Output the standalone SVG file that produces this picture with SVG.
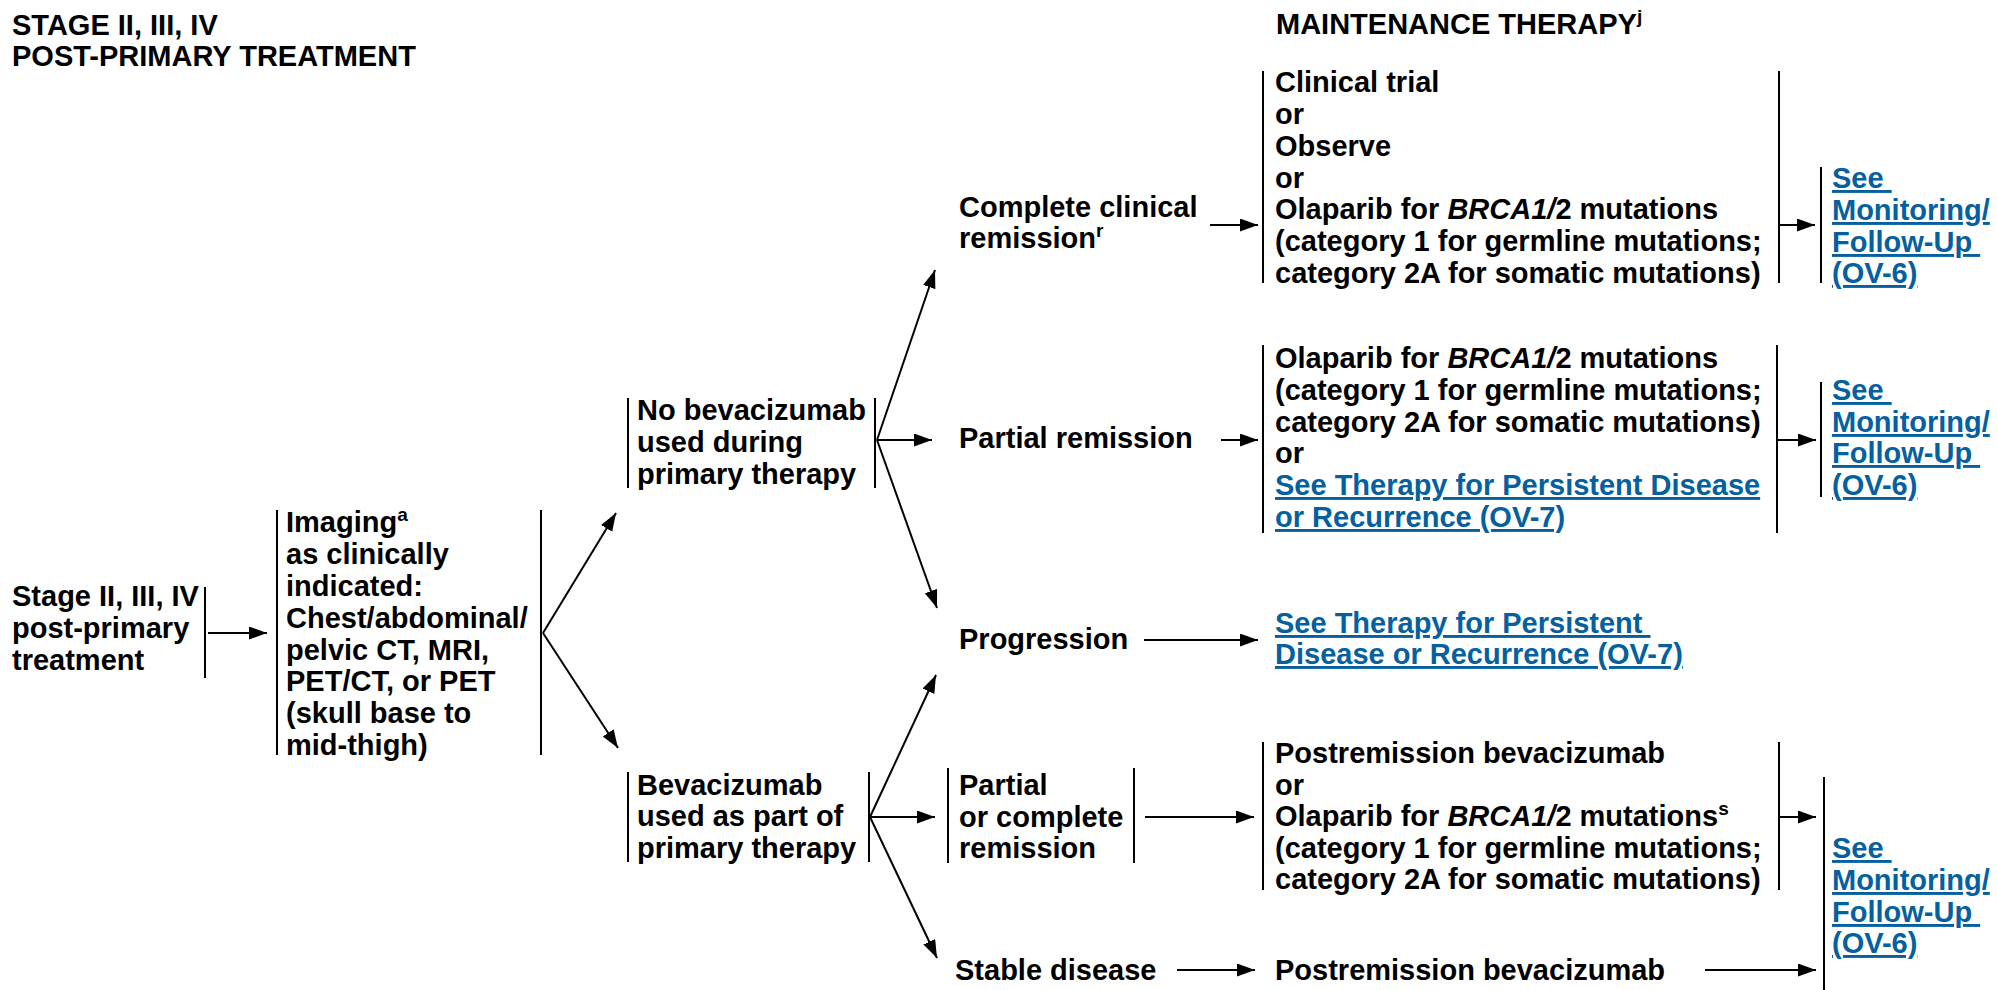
<svg xmlns="http://www.w3.org/2000/svg" width="1997" height="990" viewBox="0 0 1997 990">
<style>
.t{font-family:"Liberation Sans",Arial,sans-serif;font-weight:bold;font-size:29px;fill:#000}
.l{fill:#0560a0;text-decoration:underline}
.i{font-style:italic}
.sup{font-size:19px}
.bar{stroke:#000;stroke-width:2;fill:none}
.c{stroke:#000;stroke-width:2;fill:none;marker-end:url(#ah)}
</style>
<defs>
<marker id="ah" markerUnits="userSpaceOnUse" markerWidth="19" markerHeight="14" refX="18" refY="6.5" orient="auto">
<path d="M0,0 L18,6.5 L0,13 z" fill="#000"/>
</marker>
</defs>
<rect width="1997" height="990" fill="#fff"/>

<g id="title">
<text class="t" x="12" y="35">STAGE II, III, IV</text>
<text class="t" x="12" y="66">POST-PRIMARY TREATMENT</text>
</g>
<g id="maint-header">
<text class="t" x="1276" y="34">MAINTENANCE THERAPY<tspan class="sup" dy="-11">j</tspan></text>
</g>

<g id="n-stage">
<text class="t"><tspan x="12" y="606">Stage II, III, IV</tspan><tspan x="12" y="638">post-primary</tspan><tspan x="12" y="670">treatment</tspan></text>
<line class="bar" x1="205" y1="587" x2="205" y2="678"/>
</g>

<g id="n-imaging">
<line class="bar" x1="277" y1="510" x2="277" y2="755"/>
<line class="bar" x1="541" y1="510" x2="541" y2="755"/>
<text class="t"><tspan x="286" y="532">Imaging</tspan><tspan class="sup" dy="-11">a</tspan><tspan x="286" y="564">as clinically</tspan><tspan x="286" y="596">indicated:</tspan><tspan x="286" y="628">Chest/abdominal/</tspan><tspan x="286" y="660">pelvic CT, MRI,</tspan><tspan x="286" y="691">PET/CT, or PET</tspan><tspan x="286" y="723">(skull base to</tspan><tspan x="286" y="755">mid-thigh)</tspan></text>
</g>

<g id="n-nobev">
<line class="bar" x1="628" y1="398" x2="628" y2="488"/>
<line class="bar" x1="875" y1="398" x2="875" y2="488"/>
<text class="t"><tspan x="637" y="420">No bevacizumab</tspan><tspan x="637" y="452">used during</tspan><tspan x="637" y="484">primary therapy</tspan></text>
</g>

<g id="n-bev">
<line class="bar" x1="628" y1="772" x2="628" y2="862"/>
<line class="bar" x1="869" y1="772" x2="869" y2="862"/>
<text class="t"><tspan x="637" y="795">Bevacizumab</tspan><tspan x="637" y="826">used as part of</tspan><tspan x="637" y="858">primary therapy</tspan></text>
</g>

<g id="n-ccr">
<text class="t"><tspan x="959" y="217">Complete clinical</tspan><tspan x="959" y="248">remission</tspan><tspan class="sup" dy="-11">r</tspan></text>
</g>

<g id="n-pr">
<text class="t" x="959" y="448">Partial remission</text>
</g>

<g id="n-prog">
<text class="t" x="959" y="649">Progression</text>
</g>

<g id="n-pcr">
<line class="bar" x1="948" y1="768" x2="948" y2="863"/>
<line class="bar" x1="1134" y1="768" x2="1134" y2="863"/>
<text class="t"><tspan x="959" y="795">Partial</tspan><tspan x="959" y="827">or complete</tspan><tspan x="959" y="858">remission</tspan></text>
</g>

<g id="n-stable">
<text class="t" x="955" y="980">Stable disease</text>
</g>

<g id="n-maint1">
<line class="bar" x1="1263" y1="71" x2="1263" y2="283"/>
<line class="bar" x1="1779" y1="71" x2="1779" y2="283"/>
<text class="t"><tspan x="1275" y="92">Clinical trial</tspan><tspan x="1275" y="124">or</tspan><tspan x="1275" y="156">Observe</tspan><tspan x="1275" y="188">or</tspan><tspan x="1275" y="219">Olaparib for <tspan class="i">BRCA1/</tspan>2 mutations</tspan><tspan x="1275" y="251">(category 1 for germline mutations;</tspan><tspan x="1275" y="283">category 2A for somatic mutations)</tspan></text>
</g>

<g id="n-maint2">
<line class="bar" x1="1263" y1="345" x2="1263" y2="533"/>
<line class="bar" x1="1777" y1="345" x2="1777" y2="533"/>
<text class="t"><tspan x="1275" y="368">Olaparib for <tspan class="i">BRCA1/</tspan>2 mutations</tspan><tspan x="1275" y="400">(category 1 for germline mutations;</tspan><tspan x="1275" y="432">category 2A for somatic mutations)</tspan><tspan x="1275" y="463">or</tspan></text>
<text class="t l"><tspan x="1275" y="495">See Therapy for Persistent Disease</tspan><tspan x="1275" y="527">or Recurrence (OV-7)</tspan></text>
</g>

<g id="n-ov7">
<text class="t l"><tspan x="1275" y="633">See Therapy for Persistent </tspan><tspan x="1275" y="664">Disease or Recurrence (OV-7)</tspan></text>
</g>

<g id="n-maint3">
<line class="bar" x1="1263" y1="742" x2="1263" y2="890"/>
<line class="bar" x1="1779" y1="742" x2="1779" y2="890"/>
<text class="t"><tspan x="1275" y="763">Postremission bevacizumab</tspan><tspan x="1275" y="795">or</tspan><tspan x="1275" y="826">Olaparib for <tspan class="i">BRCA1/</tspan>2 mutations</tspan><tspan class="sup" dy="-11">s</tspan><tspan x="1275" y="858">(category 1 for germline mutations;</tspan><tspan x="1275" y="889">category 2A for somatic mutations)</tspan></text>
</g>

<g id="n-postbev">
<text class="t" x="1275" y="980">Postremission bevacizumab</text>
</g>

<g id="n-fu1">
<line class="bar" x1="1821" y1="167" x2="1821" y2="283"/>
<text class="t l"><tspan x="1832" y="188">See </tspan><tspan x="1832" y="220">Monitoring/</tspan><tspan x="1832" y="252">Follow-Up </tspan><tspan x="1832" y="283">(OV-6)</tspan></text>
</g>

<g id="n-fu2">
<line class="bar" x1="1821" y1="382" x2="1821" y2="497"/>
<text class="t l"><tspan x="1832" y="400">See </tspan><tspan x="1832" y="432">Monitoring/</tspan><tspan x="1832" y="463">Follow-Up </tspan><tspan x="1832" y="495">(OV-6)</tspan></text>
</g>

<g id="n-fu3">
<line class="bar" x1="1824" y1="777" x2="1824" y2="990"/>
<text class="t l"><tspan x="1832" y="858">See </tspan><tspan x="1832" y="890">Monitoring/</tspan><tspan x="1832" y="922">Follow-Up </tspan><tspan x="1832" y="953">(OV-6)</tspan></text>
</g>

<g id="connectors">
<line class="c" x1="208" y1="633" x2="267" y2="633"/>
<line class="c" x1="543" y1="633" x2="616" y2="513"/>
<line class="c" x1="543" y1="633" x2="618" y2="748"/>
<line class="c" x1="877" y1="440" x2="935" y2="270"/>
<line class="c" x1="877" y1="440" x2="932" y2="440"/>
<line class="c" x1="877" y1="440" x2="937" y2="608"/>
<line class="c" x1="870" y1="817" x2="936" y2="675"/>
<line class="c" x1="870" y1="817" x2="935" y2="817"/>
<line class="c" x1="870" y1="817" x2="937" y2="958"/>
<line class="c" x1="1210" y1="225" x2="1258" y2="225"/>
<line class="c" x1="1221" y1="440" x2="1258" y2="440"/>
<line class="c" x1="1144" y1="640" x2="1258" y2="640"/>
<line class="c" x1="1145" y1="817" x2="1254" y2="817"/>
<line class="c" x1="1177" y1="970" x2="1255" y2="970"/>
<line class="c" x1="1779" y1="225" x2="1815" y2="225"/>
<line class="c" x1="1777" y1="440" x2="1816" y2="440"/>
<line class="c" x1="1779" y1="817" x2="1816" y2="817"/>
<line class="c" x1="1705" y1="970" x2="1816" y2="970"/>
</g>
</svg>
